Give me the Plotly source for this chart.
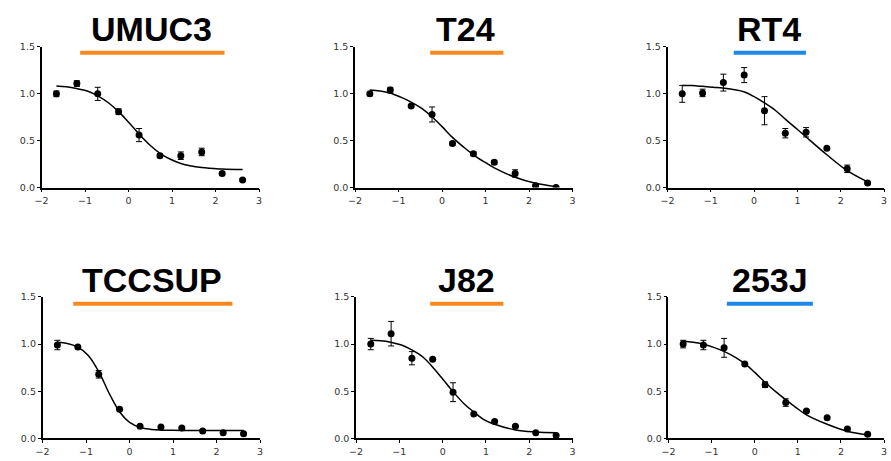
import plotly.graph_objects as go

W, H = 891, 461

# ---------------- data ----------------
cell_lines = ["UMUC3", "T24", "RT4", "TCCSUP", "J82", "253J"]
bar_colors = ["#F7891F", "#F7891F", "#1E88E8", "#F7891F", "#F7891F", "#1E88E8"]

log_dose = [-1.66, -1.19, -0.71, -0.23, 0.24, 0.72, 1.20, 1.68, 2.15, 2.62]

umuc3_y = [1.00, 1.11, 1.00, 0.81, 0.56, 0.34, 0.34, 0.38, 0.15, 0.08]
umuc3_err = [0.03, 0.03, 0.07, 0.03, 0.07, 0.02, 0.04, 0.04, 0.02, 0.01]
t24_y = [1.00, 1.04, 0.87, 0.78, 0.47, 0.36, 0.27, 0.15, 0.02, 0.00]
t24_err = [0.02, 0.03, 0.01, 0.08, 0.02, 0.02, 0.02, 0.04, 0.01, 0.01]
rt4_y = [1.00, 1.01, 1.12, 1.20, 0.82, 0.58, 0.59, 0.42, 0.20, 0.05]
rt4_err = [0.09, 0.04, 0.09, 0.08, 0.15, 0.05, 0.05, 0.01, 0.04, 0.01]
tccsup_y = [0.99, 0.97, 0.68, 0.31, 0.13, 0.12, 0.11, 0.08, 0.06, 0.05]
tccsup_err = [0.05, 0.01, 0.04, 0.01, 0.01, 0.01, 0.01, 0.01, 0.01, 0.01]
j82_y = [1.00, 1.11, 0.85, 0.84, 0.49, 0.26, 0.18, 0.13, 0.06, 0.03]
j82_err = [0.06, 0.13, 0.07, 0.01, 0.10, 0.01, 0.01, 0.01, 0.01, 0.01]
j253_y = [1.00, 0.99, 0.96, 0.79, 0.57, 0.38, 0.29, 0.22, 0.10, 0.045]
j253_err = [0.04, 0.05, 0.10, 0.01, 0.03, 0.04, 0.01, 0.01, 0.01, 0.01]

# fitted curves
fit_x = [-1.66, -1.43, -1.2, -0.95, -0.7, -0.45, -0.22, 0.0, 0.25, 0.5,
         0.72, 0.95, 1.2, 1.68, 2.15, 2.62]
umuc3_fit = [1.085, 1.075, 1.057, 1.03, 0.976, 0.90, 0.805, 0.697, 0.567, 0.449,
             0.366, 0.305, 0.257, 0.213, 0.198, 0.193]
t24_fit = [1.04, 1.03, 1.01, 0.965, 0.91, 0.84, 0.75, 0.65, 0.53, 0.43,
           0.35, 0.28, 0.21, 0.11, 0.045, 0.01]
rt4_fit = [1.09, 1.088, 1.08, 1.07, 1.06, 1.045, 1.02, 0.97, 0.90, 0.82,
           0.73, 0.64, 0.54, 0.35, 0.18, 0.06]
tccsup_fit = [1.02, 1.006, 0.97, 0.88, 0.70, 0.46, 0.275, 0.171, 0.116, 0.095,
              0.088, 0.086, 0.085, 0.084, 0.083, 0.083]
j82_fit = [1.04, 1.035, 1.02, 0.99, 0.935, 0.86, 0.75, 0.63, 0.49, 0.365,
           0.28, 0.20, 0.15, 0.09, 0.068, 0.06]
j253_fit = [1.03, 1.02, 1.0, 0.965, 0.92, 0.86, 0.79, 0.70, 0.59, 0.49,
            0.41, 0.33, 0.25, 0.15, 0.075, 0.035]

values = [umuc3_y, t24_y, rt4_y, tccsup_y, j82_y, j253_y]
errors = [umuc3_err, t24_err, rt4_err, tccsup_err, j82_err, j253_err]
fits = [umuc3_fit, t24_fit, rt4_fit, tccsup_fit, j82_fit, j253_fit]

x_ticks = [-2, -1, 0, 1, 2, 3]
y_ticks = [0.0, 0.5, 1.0, 1.5]

# ---------------- layout helpers (pixel -> paper) ----------------
def px(x):
    return x / W

def py(y):
    return 1 - y / H

# plot-area pixel boxes: (left, right, top, bottom)
boxes = [
    (35, 255, 42, 186), (352, 572, 42, 186), (668, 887, 42, 186),
    (36, 256, 298, 443), (353, 572, 298, 443), (669, 887, 298, 443),
]
title_pos = [(146, 24), (464, 24), (771, 24), (147, 281), (465, 281), (772, 281)]
bar_pos = [(74, 220, 48), (428, 502, 48), (735, 808, 48),
           (67, 228, 305), (428, 502, 305), (728, 815, 305)]

fig = go.Figure()
layout = dict(
    width=W, height=H, margin=dict(l=0, r=0, t=0, b=0),
    paper_bgcolor="white", plot_bgcolor="white", showlegend=False,
    annotations=[], shapes=[],
)

tickfont = dict(family="DejaVu Sans, sans-serif", size=9.5, color="#333")

for i, name in enumerate(cell_lines):
    n = "" if i == 0 else str(i + 1)
    l, r, t, b = boxes[i]
    layout["xaxis" + n] = dict(
        domain=[px(l), px(r)], anchor="y" + n, range=[-2, 3],
        tickvals=x_ticks, ticks="outside", ticklen=3, tickwidth=1, tickcolor="black",
        showline=True, linecolor="black", linewidth=1.5,
        showgrid=False, zeroline=False, tickfont=tickfont, fixedrange=True,
    )
    layout["yaxis" + n] = dict(
        domain=[py(b), py(t)], anchor="x" + n, range=[0, 1.5],
        tickvals=y_ticks, tickformat=".1f", ticks="outside", ticklen=3, tickwidth=1,
        tickcolor="black", showline=True, linecolor="black", linewidth=1.5,
        showgrid=False, zeroline=False, tickfont=tickfont, fixedrange=True,
    )
    fig.add_trace(go.Scatter(
        x=fit_x, y=fits[i], mode="lines", line=dict(color="black", width=1.5, shape="spline"),
        xaxis="x" + n, yaxis="y" + n, hoverinfo="skip",
    ))
    fig.add_trace(go.Scatter(
        x=log_dose, y=values[i], mode="markers",
        marker=dict(color="black", size=7),
        error_y=dict(type="data", array=errors[i], color="black", thickness=1, width=3),
        xaxis="x" + n, yaxis="y" + n,
    ))
    tx, ty = title_pos[i]
    layout["annotations"].append(dict(
        text="<b>%s</b>" % name, x=px(tx), y=py(ty), xref="paper", yref="paper",
        xanchor="center", yanchor="middle", showarrow=False,
        font=dict(family="Liberation Sans, Arial, sans-serif", size=34, color="black"),
    ))
    x0, x1, yb = bar_pos[i]
    layout["shapes"].append(dict(
        type="line", xref="paper", yref="paper", x0=px(x0), x1=px(x1),
        y0=py(yb), y1=py(yb), line=dict(color=bar_colors[i], width=4),
    ))

fig.update_layout(**layout)
fig.write_html(
    "out.html",
    config={"displayModeBar": False},
    post_script="document.body.style.margin='0';document.body.style.overflow='hidden';",
)
